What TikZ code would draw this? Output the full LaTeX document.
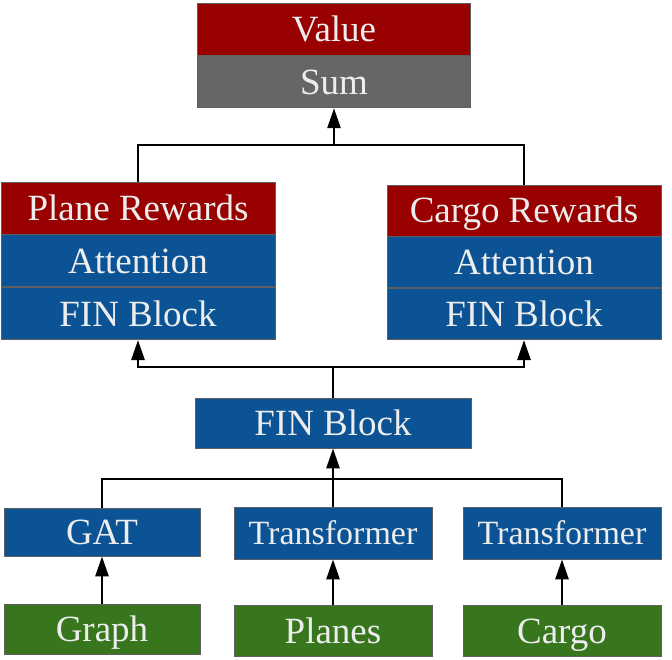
\documentclass[tikz,border=0pt]{standalone}
\usepackage{fontspec}
\setmainfont{Liberation Serif}
\usetikzlibrary{positioning,arrows.meta}
\definecolor{rewardred}{HTML}{990000}
\definecolor{blockblue}{HTML}{0B5394}
\definecolor{sumgray}{HTML}{666666}
\definecolor{inputgreen}{HTML}{38761D}
\definecolor{boxline}{HTML}{5F5F5F}
\begin{document}
\begin{tikzpicture}[x=1pt, y=-1pt, line width=2.7pt, >={Triangle[length=20pt,width=13pt]},
  box/.style={draw=boxline, line width=0.8pt, text=white!93!black, inner sep=0pt,
    font=\fontsize{37}{42}\selectfont, text height=25pt, text depth=0pt, minimum height=52pt},
  red box/.style={box, fill=rewardred},
  gray box/.style={box, fill=sumgray},
  blue box/.style={box, fill=blockblue},
  green box/.style={box, fill=inputgreen},
  small text/.style={font=\fontsize{34}{38}\selectfont, text height=23pt}]
\useasboundingbox (0,0) rectangle (672,660);
% output
\node[red box, minimum width=273pt] (value) at (334,29) {Value};
\node[gray box, minimum width=273pt, below=0pt of value] (sum) {Sum};
% reward heads
\node[red box, minimum width=274pt] (prew) at (138,208) {Plane Rewards};
\node[blue box, minimum width=274pt, below=0pt of prew] (patt) {Attention};
\node[blue box, minimum width=274pt, below=0pt of patt] (pfin) {FIN Block};
\node[red box, minimum width=274pt, minimum height=51pt] (crew) at (524,210.5) {Cargo Rewards};
\node[blue box, minimum width=274pt, minimum height=51pt, below=0pt of crew] (catt) {Attention};
\node[blue box, minimum width=274pt, minimum height=51pt, below=0pt of catt] (cfin) {FIN Block};
% shared block
\node[blue box, minimum width=276pt, minimum height=50pt] (fin) at (333,423) {FIN Block};
% encoders
\node[blue box, minimum width=196pt, minimum height=48pt] (gat) at (102,532) {GAT};
\node[blue box, small text, minimum width=198pt] (tr1) at (333,533) {Transformer};
\node[blue box, small text, minimum width=198pt] (tr2) at (562,533) {Transformer};
% inputs
\node[green box, minimum width=196pt, minimum height=50pt] (graph) at (102,629) {Graph};
\node[green box, minimum width=198pt, minimum height=51pt] (planes) at (333,631) {Planes};
\node[green box, minimum width=198pt, minimum height=51pt] (cargo) at (562,631) {Cargo};
% joins
\coordinate (topjoin) at (334,145);
\coordinate (midjoin) at (333,367);
\coordinate (lowjoin) at (333,479);
\draw (prew.north) |- (topjoin) -| (crew.north);
\draw[->] (topjoin) -- (sum);
\draw (fin) -- (midjoin);
\draw[->] (midjoin) -| (pfin.south);
\draw[->] (midjoin) -| (cfin.south);
\draw (gat) |- (lowjoin) -| (tr2);
\path[->]
(tr1) edge (fin)
(graph) edge (gat)
(planes) edge (tr1)
(cargo) edge (tr2)
;
\end{tikzpicture}
\end{document}
